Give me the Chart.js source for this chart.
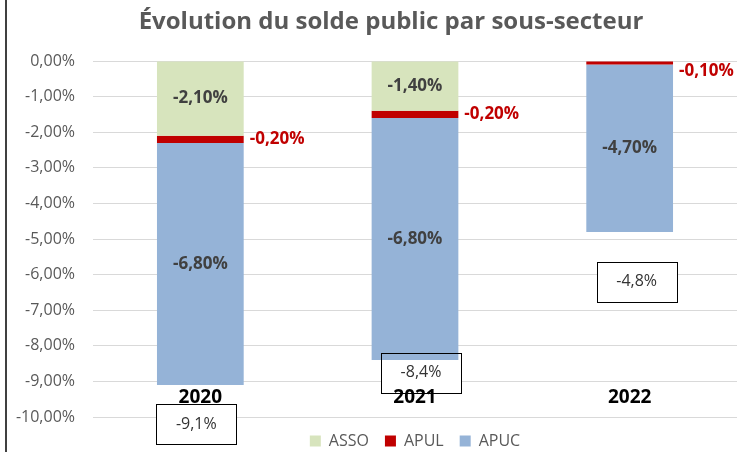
<!DOCTYPE html>
<html>
<head>
<meta charset="utf-8">
<script src="https://cdn.jsdelivr.net/npm/chart.js@4"></script>
<style>
  body { margin: 0; background: #fff; }
  #wrap { width: 737px; height: 452px; position: relative; }
</style>
</head>
<body>
<div id="wrap"><canvas id="chart"></canvas></div>
<script>
const years = ['2020', '2021', '2022'];
const asso = [-2.1, -1.4, null];
const apul = [-0.2, -0.2, -0.1];
const apuc = [-6.8, -6.8, -4.7];
const totals = [-9.1, -8.4, -4.8];
const yTicks = [0, -1, -2, -3, -4, -5, -6, -7, -8, -9, -10];
const titleText = 'Évolution du solde public par sous-secteur';

function fmt(v, d) {
  return v.toFixed(d).replace('.', ',') + '%';
}

// where the little total boxes sit (value on y axis, pixel shift on x)
const boxSpots = [[-10.2, -4], [-8.75, 6], [-6.2, 7]];

function boxRect(chart, j) {
  const bar = chart.getDatasetMeta(0).data[j];
  const bx = bar.x + boxSpots[j][1];
  const by = chart.scales.y.getPixelForValue(boxSpots[j][0]);
  return { bx, by, x: Math.round(bx - 40) + 0.5, y: Math.round(by - 20) + 0.5 };
}

const extras = {
  id: 'extras',
  beforeDatasetsDraw(chart) {
    // white fill of the total boxes hides the grid, bars go over it
    const ctx = chart.ctx;
    ctx.save();
    ctx.fillStyle = '#fff';
    years.forEach((yr, j) => {
      const r = boxRect(chart, j);
      ctx.fillRect(r.x, r.y, 80, 40);
    });
    ctx.restore();
  },
  afterDatasetsDraw(chart) {
    const ctx = chart.ctx;
    const y = chart.scales.y;
    ctx.save();
    ctx.textBaseline = 'middle';

    // title
    ctx.font = 'bold 24px "Open Sans"';
    ctx.fillStyle = '#595959';
    ctx.textAlign = 'center';
    ctx.fillText(titleText, 391, 22);

    chart.data.datasets.forEach((ds, i) => {
      const meta = chart.getDatasetMeta(i);
      meta.data.forEach((bar, j) => {
        const v = ds.data[j];
        if (v == null || v === 0) return;
        const cy = (bar.y + bar.base) / 2;
        ctx.font = 'bold 17px "Open Sans"';
        if (ds.label === 'APUL') {
          ctx.fillStyle = '#c00000';
          ctx.textAlign = 'left';
          ctx.fillText(fmt(v, 2), bar.x + bar.width / 2 + 6, Math.max(cy, y.getPixelForValue(0) + 10));
        } else {
          ctx.fillStyle = '#404040';
          ctx.textAlign = 'center';
          ctx.fillText(fmt(v, 2), bar.x, cy);
        }
      });
    });

    const meta0 = chart.getDatasetMeta(0);
    meta0.data.forEach((bar, j) => {
      // total boxes
      const r = boxRect(chart, j);
      ctx.strokeStyle = '#000';
      ctx.lineWidth = 1;
      ctx.strokeRect(r.x, r.y, 80, 40);
      ctx.font = '16px "Open Sans"';
      ctx.fillStyle = '#333';
      ctx.textAlign = 'center';
      ctx.fillText(fmt(totals[j], 1), r.bx, r.by);

      // year labels
      ctx.font = 'bold 19px "Open Sans"';
      ctx.fillStyle = '#000';
      ctx.fillText(years[j], bar.x, y.getPixelForValue(-9.45));
    });

    // frame line on the left
    ctx.strokeStyle = '#000';
    ctx.lineWidth = 1.5;
    ctx.beginPath();
    ctx.moveTo(6, 0);
    ctx.lineTo(6, 452);
    ctx.stroke();
    ctx.restore();
  }
};

new Chart(document.getElementById('chart'), {
  type: 'bar',
  data: {
    labels: years,
    datasets: [
      { label: 'ASSO', data: asso, backgroundColor: '#d7e4bd' },
      { label: 'APUL', data: apul, backgroundColor: '#c00000' },
      { label: 'APUC', data: apuc, backgroundColor: '#95b3d7' }
    ]
  },
  options: {
    responsive: true,
    maintainAspectRatio: false,
    animation: false,
    layout: { padding: { left: 0, right: -3, top: 61, bottom: -7 } },
    datasets: { bar: { categoryPercentage: 1, barPercentage: 0.404 } },
    scales: {
      x: { stacked: true, display: false },
      y: {
        stacked: true,
        min: -10,
        max: 0,
        afterBuildTicks(axis) { axis.ticks = yTicks.map(v => ({ value: v })); },
        afterFit(axis) { axis.width = 93; },
        border: { display: false },
        grid: { color: '#d9d9d9', lineWidth: 1, drawTicks: false },
        ticks: {
          padding: 18,
          color: '#595959',
          font: { family: '"Open Sans"', size: 16 },
          callback: v => fmt(v, 2)
        }
      }
    },
    plugins: {
      title: { display: false },
      legend: {
        position: 'bottom',
        fullSize: false,
        labels: {
          boxWidth: 11,
          boxHeight: 11,
          color: '#595959',
          font: { family: '"Open Sans"', size: 16 },
          padding: 16
        }
      },
      tooltip: { enabled: false }
    }
  },
  plugins: [extras]
});
</script>
</body>
</html>
